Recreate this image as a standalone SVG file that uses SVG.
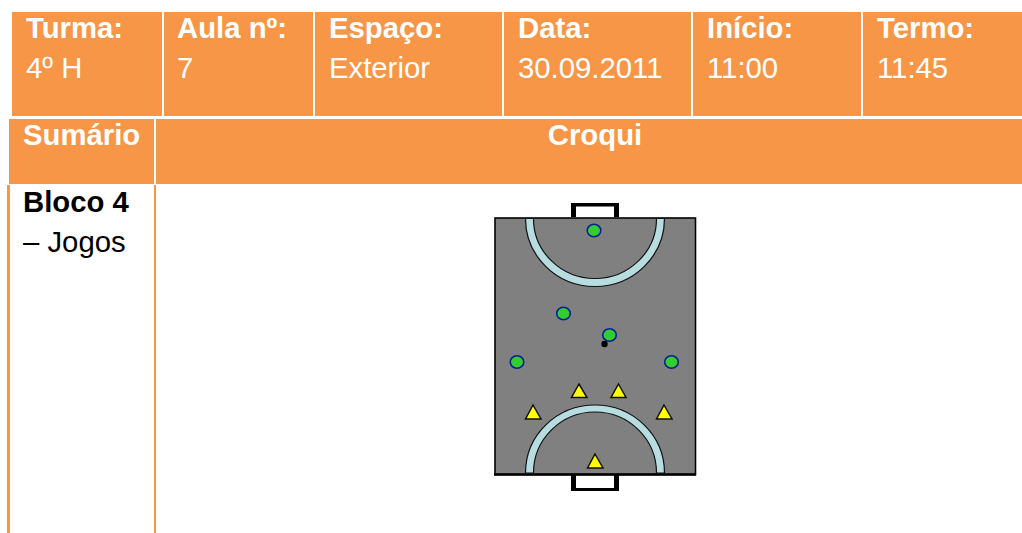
<svg xmlns="http://www.w3.org/2000/svg" width="1022" height="533" viewBox="0 0 1022 533">
<style>
text{font-family:"Liberation Sans",Arial,sans-serif;font-size:29.300px}
.h{fill:#fff;font-weight:bold}
.v{fill:#fff}
.d{fill:#000}
.c{fill:#f79646}
.arc{fill:#b7dde1;stroke:#111;stroke-width:1.200}
.p{fill:#33cc33;stroke:#0a1f8f;stroke-width:1.600}
.t{fill:#ffff00;stroke:#111;stroke-width:1.500}
.g{fill:#000}
</style>
<rect width="1022" height="533" fill="#fff"/>
<g id="turma"><rect class="c" x="12" y="12" width="150" height="104"/><text class="h" x="26" y="38">Turma:</text><text class="v" x="26" y="78">4º H</text></g>
<g id="aula"><rect class="c" x="164" y="12" width="149" height="104"/><text class="h" x="177" y="38">Aula nº:</text><text class="v" x="177" y="78">7</text></g>
<g id="espaco"><rect class="c" x="315" y="12" width="187" height="104"/><text class="h" x="329" y="38">Espaço:</text><text class="v" x="329" y="78">Exterior</text></g>
<g id="data"><rect class="c" x="504" y="12" width="187" height="104"/><text class="h" x="518" y="38">Data:</text><text class="v" x="518" y="78">30.09.2011</text></g>
<g id="inicio"><rect class="c" x="693" y="12" width="168" height="104"/><text class="h" x="707" y="38">Início:</text><text class="v" x="707" y="78">11:00</text></g>
<g id="termo"><rect class="c" x="863" y="12" width="159" height="104"/><text class="h" x="877" y="38">Termo:</text><text class="v" x="877" y="78">11:45</text></g>
<g id="sumario"><rect class="c" x="9" y="119" width="145" height="65"/><text class="h" x="23" y="145">Sumário</text></g>
<g id="croqui"><rect class="c" x="156" y="119" width="866" height="65"/><text class="h" x="595" y="145" text-anchor="middle">Croqui</text></g>
<g id="bloco"><rect class="c" x="7" y="185" width="3" height="348"/><rect class="c" x="154" y="185" width="2" height="348"/><text class="d" x="23" y="212" font-weight="bold">Bloco 4</text><text class="d" x="23" y="252">– Jogos</text></g>
<g id="campo">
<path class="g" d="M571 217V203H619V206H614V217H618V206H576V217Z"/>
<rect class="g" x="571" y="203" width="5" height="14"/>
<rect class="g" x="614" y="203" width="5" height="14"/>
<rect class="g" x="571" y="203" width="48" height="3.500"/>
<rect class="g" x="571" y="475" width="5" height="16"/>
<rect class="g" x="614" y="475" width="5" height="16"/>
<rect class="g" x="571" y="488" width="48" height="3"/>
<rect x="495" y="218" width="200.500" height="256.500" fill="#808080" stroke="#000" stroke-width="1.600"/>
<path d="M494 474.500H696" stroke="#000" stroke-width="2.600"/>
<path class="arc" d="M526 218.500H533.500A61.500 60 0 0 0 656.500 218.500H664.500A69.500 68 0 0 1 525.500 218.500Z"/>
<path class="arc" d="M526 473H533.500A61.500 61 0 0 1 656.500 473H664.500A69.500 68 0 0 0 525.500 473Z"/>
</g>
<g id="jogadores-verdes">
<ellipse class="p" cx="594" cy="230.500" rx="6.800" ry="6.200"/>
<ellipse class="p" cx="563.500" cy="313.500" rx="6.800" ry="6.200"/>
<ellipse class="p" cx="609.500" cy="335" rx="6.800" ry="6.200"/>
<ellipse class="p" cx="517" cy="362" rx="6.800" ry="6.200"/>
<ellipse class="p" cx="671.500" cy="362" rx="6.800" ry="6.200"/>
</g>
<circle id="bola" cx="604.500" cy="344" r="3.200" fill="#000"/>
<g id="jogadores-amarelos">
<polygon class="t" points="579,384 587,397.500 571.500,397.500"/>
<polygon class="t" points="618.500,384 626,397.500 611,397.500"/>
<polygon class="t" points="533,405 541,419 525.500,419"/>
<polygon class="t" points="664,405 672,419 656.500,419"/>
<polygon class="t" points="595,454 603,468 587.500,468"/>
</g>
</svg>
